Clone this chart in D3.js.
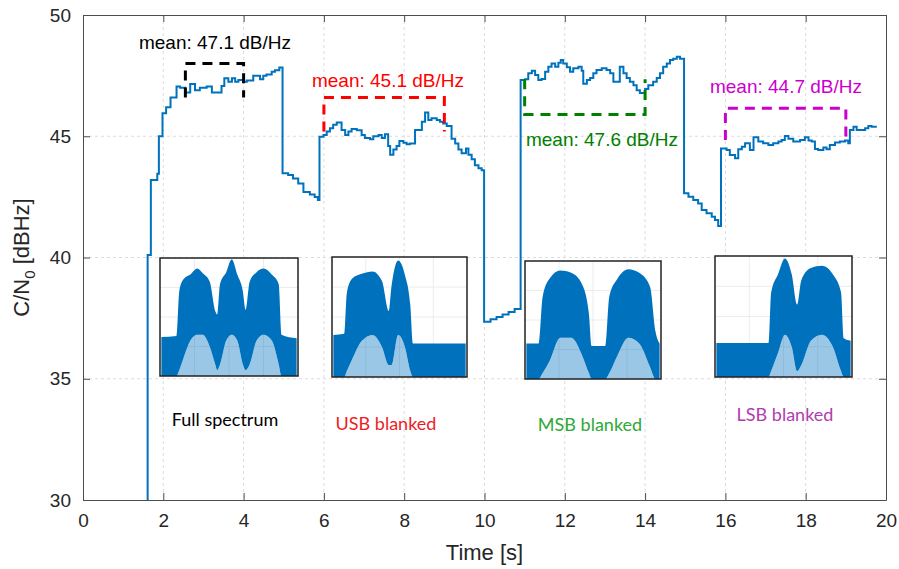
<!DOCTYPE html>
<html>
<head>
<meta charset="utf-8">
<script src="https://cdn.jsdelivr.net/npm/d3@7"></script>
<style>
  body { margin: 0; background: #fff; }
  svg { display: block; }
</style>
</head>
<body>
<div id="chart"></div>
<script>
// C/N0 trace, step breakpoints (time [s], dBHz)
var cnTime = [1.50, 1.61, 1.69, 1.85, 1.89, 1.98, 2.07, 2.18, 2.33, 2.42, 2.55, 2.67, 2.79, 2.91, 3.08, 3.21, 3.45, 3.52, 3.62, 3.71, 3.79, 3.87, 3.99, 4.08, 4.24, 4.41, 4.49, 4.57, 4.70, 4.78, 4.89,
  4.97, 5.11, 5.23, 5.36, 5.49, 5.65, 5.77, 5.85,
  5.89, 5.99, 6.07, 6.15, 6.23, 6.32, 6.44, 6.53, 6.61, 6.69, 6.82, 6.94, 7.02, 7.15, 7.23, 7.36, 7.44, 7.52, 7.60, 7.65, 7.73, 7.81, 7.88, 7.98, 8.06, 8.14, 8.27, 8.44, 8.52, 8.60, 8.68, 8.81, 8.89, 8.97, 9.06, 9.18, 9.27, 9.35, 9.43, 9.54, 9.60, 9.68, 9.76, 9.85, 9.93,
  9.99, 10.15, 10.30, 10.45, 10.60, 10.75,
  10.90, 11.01, 11.09, 11.18, 11.26, 11.34, 11.42, 11.51, 11.59, 11.67, 11.76, 11.84, 11.90, 11.96, 12.05, 12.13, 12.21, 12.34, 12.42, 12.46, 12.55, 12.63, 12.71, 12.79, 12.92, 13.04, 13.13, 13.21, 13.37, 13.46, 13.54, 13.62, 13.71, 13.79, 13.87, 14.00, 14.08, 14.20, 14.29, 14.37, 14.45, 14.54, 14.62, 14.70, 14.79, 14.87,
  14.97, 15.08, 15.20, 15.32, 15.41, 15.53, 15.66, 15.74, 15.82,
  15.89, 16.03, 16.11, 16.24, 16.32, 16.41, 16.49, 16.61, 16.70, 16.82, 16.94, 17.07, 17.19, 17.32, 17.40, 17.48, 17.57, 17.69, 17.86, 17.98, 18.07, 18.15, 18.23, 18.31, 18.44, 18.52, 18.60, 18.73, 18.85, 18.98, 19.06, 19.10, 19.19, 19.27, 19.39, 19.48, 19.56, 19.64, 19.77];
var cnValue = [20, 40.1, 43.2, 43.45, 45.0, 45.95, 46.2, 46.6, 47.05, 47.0, 46.8, 47.15, 46.9, 47.0, 47.05, 46.8, 47.07, 47.39, 47.25, 47.39, 47.25, 47.32, 47.25, 47.3, 47.5, 47.35, 47.5, 47.55, 47.66, 47.72, 47.84,
  43.47, 43.4, 43.26, 43.05, 42.7, 42.6, 42.5, 42.37,
  44.98, 45.05, 45.2, 45.33, 45.47, 45.57, 45.26, 45.05, 45.2, 45.3, 45.25, 45.05, 44.93, 44.88, 45.0, 45.05, 44.93, 45.08, 44.6, 44.24, 44.45, 44.6, 44.8, 44.73, 44.67, 44.7, 45.26, 45.6, 45.98, 45.67, 45.74, 45.67, 45.6, 45.53, 45.42, 44.9, 44.7, 44.45, 44.3, 44.5, 44.24, 44.05, 43.8, 43.68, 43.6,
  37.35, 37.45, 37.55, 37.65, 37.75, 37.88,
  47.32, 47.35, 47.6, 47.7, 47.53, 47.32, 47.36, 47.66, 47.87, 48.0, 47.87, 48.03, 48.14, 48.0, 47.85, 47.66, 47.8, 47.87, 47.7, 47.16, 47.32, 47.4, 47.6, 47.73, 47.8, 47.73, 47.6, 47.25, 47.87, 47.6, 47.4, 47.25, 47.1, 46.9, 46.78, 46.95, 47.1, 47.25, 47.4, 47.6, 47.87, 48.0, 48.14, 48.2, 48.28, 48.2,
  42.65, 42.51, 42.37, 42.23, 41.96, 41.82, 41.68, 41.55, 41.30,
  44.50, 44.43, 44.23, 44.09, 44.46, 44.57, 44.71, 44.43, 44.96, 44.78, 44.71, 44.64, 44.71, 44.78, 44.85, 45.01, 44.9, 44.78, 44.85, 44.96, 44.82, 44.78, 44.47, 44.43, 44.54, 44.46, 44.64, 44.74, 44.78, 44.82, 44.71, 45.26, 45.39, 45.26, 45.26, 45.33, 45.42, 45.39, 45.39];

// mean brackets: [start, end] in s, bracket level, leg end level, label
var meanStart = [2.55, 6.0, 11.0, 16.0];
var meanEnd = [4.0, 9.0, 14.0, 19.0];
var meanLevel = [48.0, 46.6, 45.9, 46.15];
var meanLegEnd = [46.6, 45.2, 47.35, 44.85];
var meanLabels = ["mean: 47.1 dB/Hz", "mean: 45.1 dB/Hz", "mean: 47.6 dB/Hz", "mean: 44.7 dB/Hz"];

var xTicks = [0, 2, 4, 6, 8, 10, 12, 14, 16, 18, 20];
var yTicks = [30, 35, 40, 45, 50];

// inset spectra: [freq fraction, upper envelope, lower edge of solid part] (fractions of the inset box)
var specFull = [[0.01,.33,0],[0.12,.34,0],[0.14,.72,.05],[0.17,.82,.15],[0.22,.86,.3],[0.27,.91,.35],[0.31,.87,.35],[0.36,.80,.25],[0.40,.55,.1],[0.415,.52,.05],[0.435,.78,.1],[0.48,.88,.3],[0.52,.99,.35],[0.56,.86,.3],[0.60,.72,.1],[0.62,.56,.05],[0.65,.80,.1],[0.70,.88,.3],[0.75,.91,.35],[0.81,.86,.3],[0.86,.78,.1],[0.88,.35,0],[0.99,.32,0]];
var specUsb = [[0.01,.35,0],[0.09,.36,0],[0.11,.70,.05],[0.15,.82,.15],[0.22,.86,.3],[0.30,.88,.35],[0.37,.80,.25],[0.42,.55,.1],[0.44,.75,.1],[0.49,.97,.35],[0.54,.85,.25],[0.58,.60,.05],[0.60,.28,0],[0.99,.28,0]];
var specMsb = [[0.01,.30,0],[0.10,.30,0],[0.13,.70,.05],[0.18,.85,.15],[0.26,.92,.35],[0.34,.90,.35],[0.42,.80,.2],[0.47,.55,.05],[0.49,.28,0],[0.59,.28,0],[0.62,.70,.05],[0.68,.85,.2],[0.76,.93,.35],[0.84,.90,.3],[0.92,.78,.1],[0.96,.40,0],[0.99,.30,0]];
var specLsb = [[0.01,.28,0],[0.39,.28,0],[0.41,.70,.05],[0.46,.85,.2],[0.51,.98,.35],[0.56,.85,.25],[0.60,.60,.05],[0.63,.80,.1],[0.70,.90,.3],[0.78,.92,.35],[0.86,.85,.25],[0.92,.70,.05],[0.94,.32,0],[0.99,.30,0]];
var insetLabels = ["Full spectrum", "USB blanked", "MSB blanked", "LSB blanked"];

function init(){
    var w = 899, h = 569;
    var left = 83, right = 886, top = 15, bottom = 500;
    var blue = "#0072BD";
    var meanColors = ["#000000", "#ff0000", "#008000", "#cc00cc"];
    var labelColors = ["#000000", "#ee1c25", "#2ea836", "#b03cb0"];

    var x = d3.scaleLinear().domain([0, 20]).range([left, right]);
    var y = d3.scaleLinear().domain([30, 50]).range([bottom, top]);

    var svg = d3.select("#chart").append("svg")
                .attr("width", w).attr("height", h)
                .style("font-family", "'Liberation Sans', Arial, sans-serif");

    //grid
    svg.append("g").selectAll("line").data(xTicks.slice(1, -1)).enter().append("line")
        .attr("x1", function(d){ return x(d); }).attr("x2", function(d){ return x(d); })
        .attr("y1", top).attr("y2", bottom)
        .attr("stroke", "#dcdcdc").attr("stroke-dasharray", "3,3");
    svg.append("g").selectAll("line").data(yTicks.slice(1, -1)).enter().append("line")
        .attr("y1", function(d){ return y(d); }).attr("y2", function(d){ return y(d); })
        .attr("x1", left).attr("x2", right)
        .attr("stroke", "#dcdcdc").attr("stroke-dasharray", "3,3");

    //axes (ticks inward, box on)
    var axisColor = "#4d4d4d";
    var gx = svg.append("g").attr("transform", "translate(0," + bottom + ")")
        .call(d3.axisBottom(x).tickValues(xTicks).tickSizeInner(-7).tickSizeOuter(0).tickPadding(14));
    var gy = svg.append("g").attr("transform", "translate(" + left + ",0)")
        .call(d3.axisLeft(y).tickValues(yTicks).tickSizeInner(-7).tickSizeOuter(0).tickPadding(12));
    var gx2 = svg.append("g").attr("transform", "translate(0," + top + ")")
        .call(d3.axisTop(x).tickValues(xTicks).tickSizeInner(-7).tickSizeOuter(0).tickFormat(""));
    var gy2 = svg.append("g").attr("transform", "translate(" + right + ",0)")
        .call(d3.axisRight(y).tickValues(yTicks).tickSizeInner(-7).tickSizeOuter(0).tickFormat(""));
    [gx, gy, gx2, gy2].forEach(function(g){
        g.selectAll("path").attr("stroke", axisColor);
        g.selectAll("line").attr("stroke", axisColor);
        g.selectAll("text").attr("fill", "#262626").style("font-size", "19px")
         .style("font-family", "'Liberation Sans', Arial, sans-serif");
    });

    //axis labels
    svg.append("text").attr("x", (left + right) / 2).attr("y", 560)
        .attr("text-anchor", "middle").attr("fill", "#262626").style("font-size", "22px")
        .text("Time [s]");
    var yl = svg.append("text").attr("transform", "translate(29," + ((top + bottom) / 2) + ") rotate(-90)")
        .attr("text-anchor", "middle").attr("fill", "#262626").style("font-size", "22px");
    yl.append("tspan").text("C/N");
    yl.append("tspan").attr("dy", 6).style("font-size", "15px").text("0");
    yl.append("tspan").attr("dy", -6).text(" [dBHz]");

    //clip
    svg.append("clipPath").attr("id", "plotclip").append("rect")
        .attr("x", left).attr("y", top).attr("width", right - left).attr("height", bottom - top);

    //insets
    var insetBox = [[160, 258, 138, 118], [332, 257, 135, 120], [525, 261, 136, 118], [715, 256, 137, 121]];
    var specs = [specFull, specUsb, specMsb, specLsb];
    specs.forEach(function(spec, i){
        var b = insetBox[i];
        var g = svg.append("g").attr("transform", "translate(" + b[0] + "," + b[1] + ")");
        g.append("rect").attr("width", b[2]).attr("height", b[3]).attr("fill", "#fff");
        var fx = d3.scaleLinear().domain([0, 1]).range([0, b[2]]);
        var fy = d3.scaleLinear().domain([0, 1]).range([b[3], 0]);
        [0.25, 0.5, 0.75].forEach(function(v){
            g.append("line").attr("x1", fx(v)).attr("x2", fx(v)).attr("y1", 0).attr("y2", b[3]).attr("stroke", "#ececec");
            g.append("line").attr("y1", fy(v)).attr("y2", fy(v)).attr("x1", 0).attr("x2", b[2]).attr("stroke", "#ececec");
        });
        var streak = d3.area().x(function(d){ return fx(d[0]); }).y0(fy(0)).y1(function(d){ return fy(d[2]); }).curve(d3.curveMonotoneX);
        var solid = d3.area().x(function(d){ return fx(d[0]); }).y0(function(d){ return fy(d[2]); }).y1(function(d){ return fy(d[1]); }).curve(d3.curveMonotoneX);
        g.append("path").datum(spec).attr("d", streak).attr("fill", blue).attr("opacity", 0.4);
        g.append("path").datum(spec).attr("d", solid).attr("fill", blue);
        g.append("rect").attr("width", b[2]).attr("height", b[3])
            .attr("fill", "none").attr("stroke", "#222").attr("stroke-width", 1.5);
    });

    var labelPos = [[225, 426], [386, 430], [590, 431], [785, 421]];
    insetLabels.forEach(function(t, i){
        svg.append("text").attr("x", labelPos[i][0]).attr("y", labelPos[i][1])
            .attr("text-anchor", "middle").attr("fill", labelColors[i])
            .style("font-family", "Lato, 'Open Sans', sans-serif").style("font-size", "18px")
            .text(t);
    });

    //C/N0 line
    var pts = cnTime.map(function(t, i){ return [t, cnValue[i]]; });
    var line = d3.line().x(function(d){ return x(d[0]); }).y(function(d){ return y(d[1]); }).curve(d3.curveStepAfter);
    svg.append("path").datum(pts).attr("d", line)
        .attr("clip-path", "url(#plotclip)")
        .attr("fill", "none").attr("stroke", blue).attr("stroke-width", 2);

    //mean brackets
    var textPos = [[215, 49], [388, 87], [602, 146], [786, 93]];
    meanStart.forEach(function(s, i){
        var e = meanEnd[i];
        var p = d3.path();
        p.moveTo(x(s), y(meanLegEnd[i]));
        p.lineTo(x(s), y(meanLevel[i]));
        p.lineTo(x(e), y(meanLevel[i]));
        p.lineTo(x(e), y(meanLegEnd[i]));
        svg.append("path").attr("d", p.toString())
            .attr("fill", "none").attr("stroke", meanColors[i]).attr("stroke-width", 3)
            .attr("stroke-dasharray", "10,7");
        svg.append("text").attr("x", textPos[i][0]).attr("y", textPos[i][1])
            .attr("text-anchor", "middle").attr("fill", meanColors[i]).style("font-size", "19px")
            .text(meanLabels[i]);
    });
}
window.onload = init;
</script>
</body>
</html>
